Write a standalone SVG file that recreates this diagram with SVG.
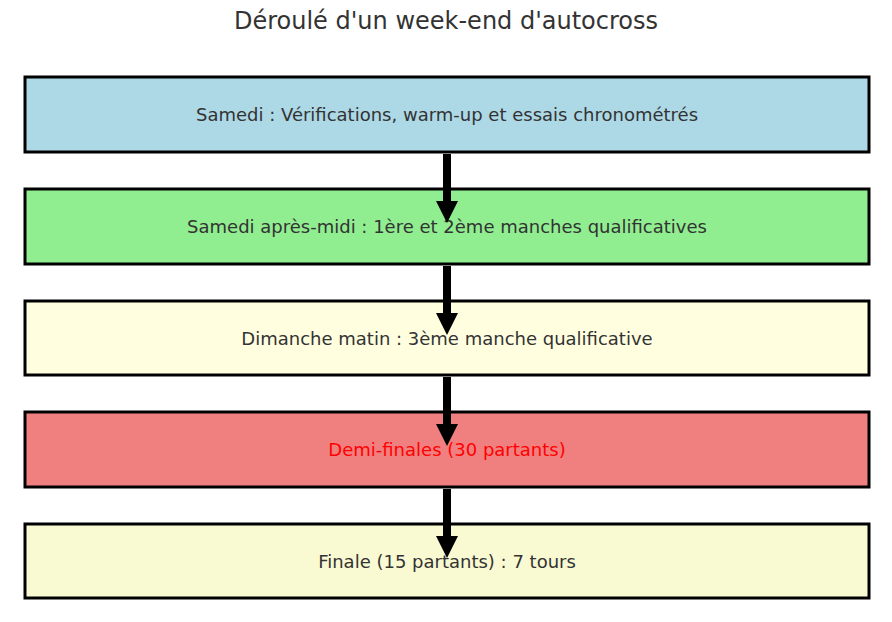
<svg xmlns="http://www.w3.org/2000/svg" width="892" height="622" viewBox="0 0 892 622">
<style>
.box{stroke:#000;stroke-width:3}
.t{font-family:"DejaVu Sans",sans-serif;font-size:18px;fill:#333;text-anchor:middle;dominant-baseline:central}
.arr{fill:#000}
</style>
<rect width="892" height="622" fill="#fff"/>
<text x="446" y="21" class="t" style="font-size:24px">Déroulé d'un week-end d'autocross</text>
<g id="n1"><rect class="box" x="25" y="77" width="844" height="75" fill="#add8e6"/><text class="t" x="447" y="114">Samedi : Vérifications, warm-up et essais chronométrés</text></g>
<g id="n2"><rect class="box" x="25" y="189" width="844" height="75" fill="#90ee90"/><text class="t" x="447" y="226">Samedi après-midi : 1ère et 2ème manches qualificatives</text></g>
<g id="n3"><rect class="box" x="25" y="301" width="844" height="74" fill="#ffffe0"/><text class="t" x="447" y="338">Dimanche matin : 3ème manche qualificative</text></g>
<g id="n4"><rect class="box" x="25" y="412" width="844" height="75" fill="#f08080"/><text class="t" x="447" y="449" style="fill:#ff0000">Demi-finales (30 partants)</text></g>
<g id="n5"><rect class="box" x="25" y="524" width="844" height="74" fill="#fafad2"/><text class="t" x="447" y="561">Finale (15 partants) : 7 tours</text></g>
<g id="connectors">
<polygon class="arr" points="443,154 451,154 451,201 458,201 447,223 436,201 443,201"/>
<polygon class="arr" points="443,266 451,266 451,313 458,313 447,335 436,313 443,313"/>
<polygon class="arr" points="443,377 451,377 451,424 458,424 447,446 436,424 443,424"/>
<polygon class="arr" points="443,489 451,489 451,536 458,536 447,558 436,536 443,536"/>
</g>
</svg>
